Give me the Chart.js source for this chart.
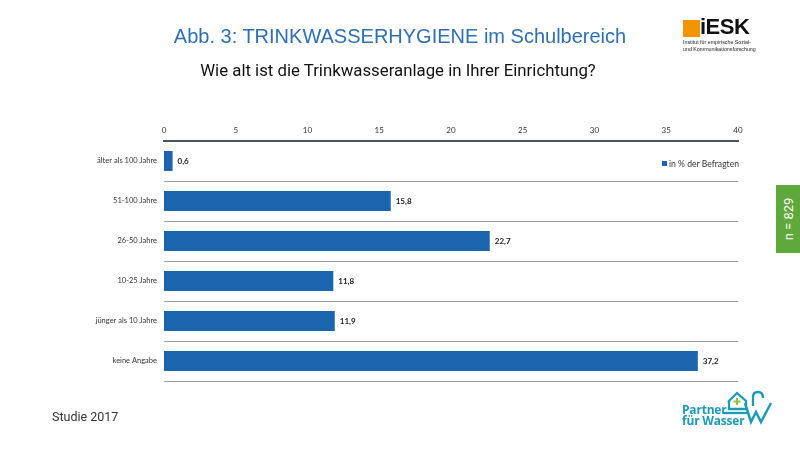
<!DOCTYPE html>
<html><head><meta charset="utf-8">
<script src="https://cdn.jsdelivr.net/npm/chart.js@4.4.1/dist/chart.umd.min.js"></script>
<style>
html,body{margin:0;padding:0;background:#fff;}
#wrap{position:relative;width:800px;height:450px;overflow:hidden;background:#fff;}
#c{position:absolute;left:0;top:0;}
.t{position:absolute;white-space:nowrap;}
</style></head><body>
<div id="wrap">
<canvas id="c" width="800" height="450"></canvas>
<div class="t" id="title" style="left:0;width:800px;text-align:center;top:25px;font:20px 'Liberation Sans',Arial,sans-serif;color:#2f6fb3;">Abb. 3: TRINKWASSERHYGIENE im Schulbereich</div>
<div class="t" id="sub" style="left:0;width:796px;text-align:center;top:60px;font:16.8px Roboto,sans-serif;color:#111;">Wie alt ist die Trinkwasseranlage in Ihrer Einrichtung?</div>
<div class="t" style="left:52px;top:409px;font:12.5px Roboto,sans-serif;color:#333;">Studie 2017</div>
<div style="position:absolute;left:776px;top:185px;width:24px;height:68px;background:#5ea83c;"></div>
<div class="t" style="left:788px;top:219px;transform:translate(-50%,-50%) rotate(-90deg);font:13px Roboto,sans-serif;color:#fff;">n = 829</div>
<!-- iESK logo -->
<div style="position:absolute;left:683px;top:20px;width:17px;height:17px;background:#f29400;"></div>
<div class="t" style="left:700px;top:14px;font:bold 22px 'Liberation Sans',Arial,sans-serif;color:#111;letter-spacing:-0.5px;">iESK</div>
<div class="t" style="left:683px;top:39px;font:5.3px 'Liberation Sans',Arial,sans-serif;color:#222;line-height:6.5px;">Institut für empirische Sozial-<br>und Kommunikationsforschung</div>
<!-- Partner für Wasser logo -->
<div class="t" style="left:682px;top:404px;font:bold 12px 'Open Sans',sans-serif;color:#1d9bb3;line-height:11px;letter-spacing:-0.2px;">Partner<br>für Wasser</div>
<svg style="position:absolute;left:722px;top:388px;" width="56" height="40" viewBox="0 0 56 40">
<path d="M6 14 L15 5 L24 13 L24 19" fill="none" stroke="#1d9bb3" stroke-width="2.3"/>
<path d="M7 13 L7 21 L24 21" fill="none" stroke="#1d9bb3" stroke-width="2.3"/>
<path d="M2 25 L25 25" fill="none" stroke="#1d9bb3" stroke-width="2.3"/>
<path d="M15 10 v7 M11.5 13.5 h7" stroke="#8cc63f" stroke-width="2"/>
<path d="M23 15 L29 34 L34 24 L39 34 L49 15" fill="none" stroke="#1d9bb3" stroke-width="2.5"/>
<path d="M31 18 L31 9 Q31 4 36 4 Q41 4 41 10" fill="none" stroke="#1d9bb3" stroke-width="2.3"/>
</svg>
</div>
<script>
const categories = ["älter als 100 Jahre", "51-100 Jahre", "26-50 Jahre", "10-25 Jahre", "jünger als 10 Jahre", "keine Angabe"];
const values = [0.6, 15.8, 22.7, 11.8, 11.9, 37.2];
const seriesLabel = "in % der Befragten";
const xMin = 0, xMax = 40, xStep = 5;

const barColor = "#1b64ae";

const valueLabels = {
  id: 'valueLabels',
  afterDatasetsDraw(chart) {
    const ctx = chart.ctx;
    const meta = chart.getDatasetMeta(0);
    ctx.save();
    ctx.font = "bold 8px Lato, sans-serif";
    ctx.fillStyle = "#222";
    ctx.textBaseline = "middle";
    ctx.textAlign = "left";
    meta.data.forEach((el, i) => {
      const v = chart.data.datasets[0].data[i];
      ctx.fillText(String(v).replace('.', ','), el.x + 5, el.y + 0.5);
    });
    ctx.restore();
  }
};
const innerLegend = {
  id: 'innerLegend',
  afterDraw(chart) {
    const ctx = chart.ctx;
    const ca = chart.chartArea;
    const ds = chart.data.datasets[0];
    ctx.save();
    ctx.font = "8.6px Lato, sans-serif";
    ctx.textBaseline = "middle";
    ctx.textAlign = "right";
    const x = ca.right + 1, y = 164;
    const w = ctx.measureText(ds.label).width;
    ctx.fillStyle = "#333";
    ctx.fillText(ds.label, x, y);
    ctx.fillStyle = ds.backgroundColor;
    ctx.fillRect(x - w - 7, y - 3, 5, 5);
    ctx.restore();
  }
};

new Chart(document.getElementById('c'), {
  type: 'bar',
  data: {
    labels: categories,
    datasets: [{
      label: seriesLabel,
      data: values,
      backgroundColor: barColor,
      borderWidth: 0,
      barPercentage: 0.5,
      categoryPercentage: 1.0
    }]
  },
  options: {
    indexAxis: 'y',
    responsive: false,
    animation: false,
    devicePixelRatio: 1,
    layout: { padding: { left: 0, right: 62, top: 110, bottom: 69 } },
    plugins: {
      legend: { display: false },
      title: { display: false },
      tooltip: { enabled: false }
    },
    scales: {
      x: {
        position: 'top',
        min: xMin, max: xMax,
        ticks: { stepSize: xStep, padding: 6, color: '#333', font: { family: 'Lato', size: 8 } },
        grid: { display: false, drawTicks: false },
        border: { display: true, color: '#44546a', width: 2 },
        afterFit(s) { s.height = 31; }
      },
      y: {
        ticks: { padding: 7, color: '#333', font: { family: 'Lato', size: 7.5 } },
        grid: { display: true, offset: true, drawTicks: false, color: '#9a9a9a', lineWidth: 1 },
        border: { display: false },
        afterFit(s) { s.width = 164; }
      }
    }
  },
  plugins: [valueLabels, innerLegend]
});
</script>
</body></html>
